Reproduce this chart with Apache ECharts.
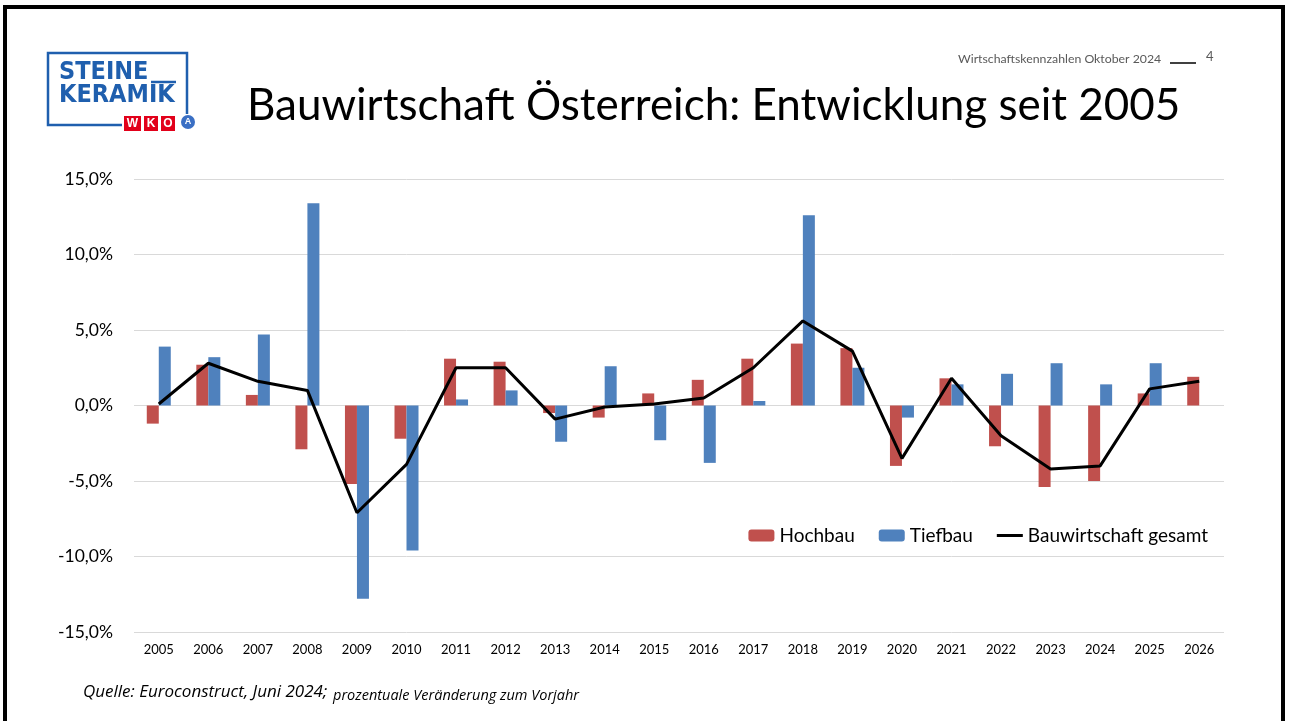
<!DOCTYPE html>
<html>
<head>
<meta charset="utf-8">
<script src="https://cdn.jsdelivr.net/npm/echarts@6/dist/echarts.min.js"></script>
<style>
  html, body { margin: 0; padding: 0; background: #fff; }
  #chart { width: 1290px; height: 721px; }
</style>
</head>
<body>
<div id="chart"></div>
<script>
// data (percent change vs. previous year)
var years = ['2005','2006','2007','2008','2009','2010','2011','2012','2013','2014','2015',
             '2016','2017','2018','2019','2020','2021','2022','2023','2024','2025','2026'];
var hochbau = [-1.2, 2.7, 0.7, -2.9, -5.2, -2.2, 3.1, 2.9, -0.5, -0.8, 0.8,
               1.7, 3.1, 4.1, 3.8, -4.0, 1.8, -2.7, -5.4, -5.0, 0.8, 1.9];
var tiefbau = [3.9, 3.2, 4.7, 13.4, -12.8, -9.6, 0.4, 1.0, -2.4, 2.6, -2.3,
               -3.8, 0.3, 12.6, 2.5, -0.8, 1.4, 2.1, 2.8, 1.4, 2.8, null];
var gesamt = [0.1, 2.8, 1.6, 1.0, -7.1, -3.9, 2.5, 2.5, -0.9, -0.1, 0.1,
              0.5, 2.5, 5.6, 3.6, -3.5, 1.8, -2.0, -4.2, -4.0, 1.1, 1.6];
var yTicks = [-15, -10, -5, 0, 5, 10, 15];

var font = 'Lato, "Open Sans", sans-serif';
var blue = '#1f5fae';
// plain line icon for the legend (tiny dots keep the box 26x12)
var lineIcon = 'path://M0,0L0.01,0L0,0Z M0,4.5H26V7.5H0Z M0,12L0.01,12L0,12Z';

var myChart = echarts.init(document.getElementById('chart'));

var option = {
    backgroundColor: '#fff',
    animation: false,
    textStyle: { fontFamily: font },
    grid: { left: 134, right: 66, top: 179, bottom: 89, containLabel: false },
    legend: {
        right: 77,
        top: 521,
        itemWidth: 26,
        itemHeight: 12,
        itemGap: 24,
        textStyle: { fontSize: 19, color: '#000', fontFamily: font },
        data: ['Hochbau', 'Tiefbau', { name: 'Bauwirtschaft gesamt', icon: lineIcon }]
    },
    xAxis: {
        type: 'category',
        data: years,
        axisLine: { show: false },
        axisTick: { show: false },
        axisLabel: { fontSize: 13, color: '#000', margin: 11, interval: 0 }
    },
    yAxis: {
        type: 'value',
        min: yTicks[0],
        max: yTicks[yTicks.length - 1],
        interval: 5,
        axisLine: { show: false },
        axisTick: { show: false },
        splitLine: { lineStyle: { color: '#d9d9d9', width: 1 } },
        axisLabel: {
            fontSize: 17.5, color: '#000', margin: 21,
            formatter: function (v) { return v.toFixed(1).replace('.', ',') + '%'; }
        }
    },
    series: [{
        name: 'Hochbau',
        type: 'bar',
        barWidth: 12,
        barGap: '0%',
        itemStyle: { color: '#c0504d' },
        data: hochbau
    }, {
        name: 'Tiefbau',
        type: 'bar',
        barWidth: 12,
        barGap: '0%',
        itemStyle: { color: '#4f81bd' },
        data: tiefbau
    }, {
        name: 'Bauwirtschaft gesamt',
        type: 'line',
        symbol: 'none',
        z: 5,
        lineStyle: { color: '#000', width: 3 },
        itemStyle: { color: '#000' },
        data: gesamt
    }],
    graphic: [
        // slide frame
        { type: 'polyline', shape: { points: [[5, 721], [5, 7], [1283, 7], [1283, 721]] },
          style: { stroke: '#000', lineWidth: 4, fill: null } },
        // header
        { type: 'text', left: 247, top: 84,
          style: { text: 'Bauwirtschaft Österreich: Entwicklung seit 2005', fontSize: 44,
                   fontFamily: font, fill: '#000' } },
        { type: 'text', left: 958, top: 53,
          style: { text: 'Wirtschaftskennzahlen Oktober 2024', fontSize: 12.3, fontFamily: font, fill: '#595959' } },
        { type: 'line', shape: { x1: 1170, y1: 63, x2: 1196, y2: 63 },
          style: { stroke: '#404040', lineWidth: 2 } },
        { type: 'text', left: 1206, top: 50,
          style: { text: '4', fontSize: 13, fontFamily: font, fill: '#595959' } },
        // logo
        { type: 'polyline', shape: { points: [[122, 125], [48, 125], [48, 53], [187, 53], [187, 114]] },
          style: { stroke: blue, lineWidth: 2.5, fill: null } },
        { type: 'text', left: 59, top: 60,
          style: { text: 'STEINE', fontSize: 25, fontWeight: 'bold', fill: blue,
                   fontFamily: '"DejaVu Sans Condensed", "Open Sans", sans-serif' } },
        { type: 'line', shape: { x1: 151, y1: 82, x2: 176, y2: 82 },
          style: { stroke: blue, lineWidth: 2.5 } },
        { type: 'text', left: 59, top: 83,
          style: { text: 'KERAMIK', fontSize: 25, fontWeight: 'bold', fill: blue,
                   fontFamily: '"DejaVu Sans Condensed", "Open Sans", sans-serif' } },
        { type: 'rect', shape: { x: 124, y: 116, width: 17, height: 15 }, style: { fill: '#e2001a' } },
        { type: 'rect', shape: { x: 144, y: 116, width: 14, height: 15 }, style: { fill: '#e2001a' } },
        { type: 'rect', shape: { x: 161, y: 116, width: 14, height: 15 }, style: { fill: '#e2001a' } },
        { type: 'text', x: 132.5, y: 123.5,
          style: { text: 'W', fontSize: 12, fontWeight: 'bold', fill: '#fff', align: 'center', verticalAlign: 'middle' } },
        { type: 'text', x: 151, y: 123.5,
          style: { text: 'K', fontSize: 12, fontWeight: 'bold', fill: '#fff', align: 'center', verticalAlign: 'middle' } },
        { type: 'text', x: 168, y: 123.5,
          style: { text: 'O', fontSize: 12, fontWeight: 'bold', fill: '#fff', align: 'center', verticalAlign: 'middle' } },
        { type: 'circle', shape: { cx: 188, cy: 122, r: 7 }, style: { fill: '#3a6fc4' } },
        { type: 'text', x: 188, y: 122,
          style: { text: 'A', fontSize: 9, fontWeight: 'bold', fill: '#fff', align: 'center', verticalAlign: 'middle' } },
        // footer
        { type: 'text', left: 83, top: 684,
          style: { text: 'Quelle: Euroconstruct, Juni 2024;', fontSize: 17, fontStyle: 'italic',
                   fontFamily: '"Open Sans", sans-serif', fill: '#000' } },
        { type: 'text', left: 333, top: 688,
          style: { text: 'prozentuale Veränderung zum Vorjahr', fontSize: 14.5, fontStyle: 'italic',
                   fontFamily: '"Open Sans", sans-serif', fill: '#000' } }
    ]
};

myChart.setOption(option);
</script>
</body>
</html>
